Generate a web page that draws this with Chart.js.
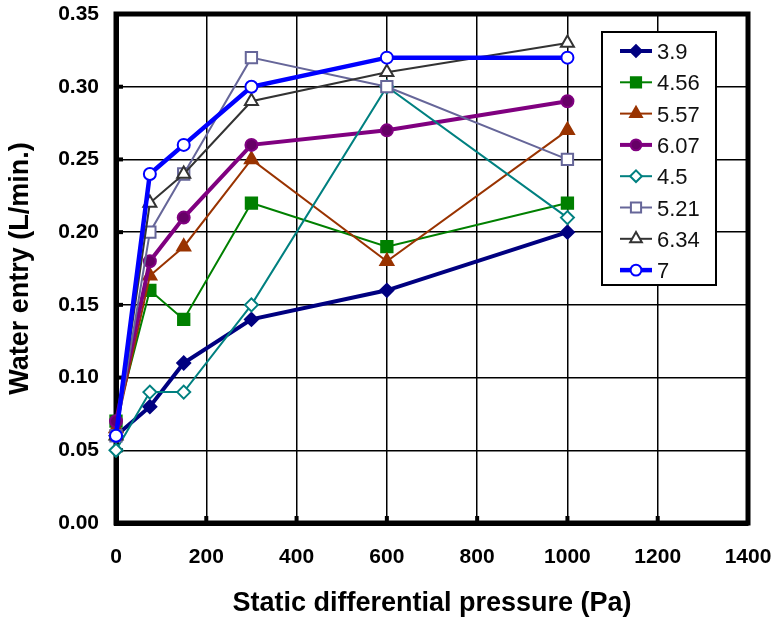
<!DOCTYPE html>
<html>
<head>
<meta charset="utf-8">
<script src="https://cdn.jsdelivr.net/npm/chart.js@4"></script>
<style>
  body { margin: 0; background: #fff; }
  #wrap { width: 778px; height: 620px; }
</style>
</head>
<body>
<div id="wrap"><canvas id="myChart" width="778" height="620"></canvas></div>
<script>
const pressure = [0, 75, 150, 300, 600, 1000];
const seriesNames = ["3.9", "4.56", "5.57", "6.07", "4.5", "5.21", "6.34", "7"];
const s39 = [0.06, 0.08, 0.11, 0.14, 0.16, 0.20];
const s456 = [0.07, 0.16, 0.14, 0.22, 0.19, 0.22];
const s557 = [0.065, 0.17, 0.19, 0.25, 0.18, 0.27];
const s607 = [0.07, 0.18, 0.21, 0.26, 0.27, 0.29];
const s45 = [0.05, 0.09, 0.09, 0.15, 0.30, 0.21];
const s521 = [0.06, 0.20, 0.24, 0.32, 0.30, 0.25];
const s634 = [0.06, 0.22, 0.24, 0.29, 0.31, 0.33];
const s7 = [0.06, 0.24, 0.26, 0.30, 0.32, 0.32];

const values = [s39, s456, s557, s607, s45, s521, s634, s7];
const styles = [
  { color: "#000080", fill: "#000080", width: 4, point: "rectRot", r: 6.5 },
  { color: "#008000", fill: "#008000", width: 2, point: "rect", r: 8 },
  { color: "#993300", fill: "#993300", width: 2, point: "triangle", r: 7.5 },
  { color: "#800080", fill: "#660066", width: 4, point: "circle", r: 6 },
  { color: "#008080", fill: "#ffffff", width: 2, point: "rectRot", r: 6.5 },
  { color: "#666699", fill: "#ffffff", width: 2, point: "rect", r: 8 },
  { color: "#333333", fill: "#ffffff", width: 2, point: "triangle", r: 7.5 },
  { color: "#0000ff", fill: "#ffffff", width: 4.5, point: "circle", r: 6 },
];

const FONT = "Arial, 'Liberation Sans', sans-serif";

const datasets = seriesNames.map((name, i) => ({
  label: name,
  data: pressure.map((x, j) => ({ x: x, y: values[i][j] })),
  borderColor: styles[i].color,
  backgroundColor: styles[i].fill,
  borderWidth: styles[i].width,
  pointStyle: styles[i].point,
  pointRadius: styles[i].r,
  pointBorderColor: styles[i].color,
  pointBackgroundColor: styles[i].fill,
  pointBorderWidth: 2,
  tension: 0,
  fill: false,
  clip: false,
  order: 7 - i,
}));

// legend box drawn inside the plot, line + marker like the original
const boxLegend = {
  id: "boxLegend",
  afterDraw(chart) {
    const c = chart.ctx;
    const left = 602, top = 32, w = 114, h = 253;
    c.save();
    c.fillStyle = "#fff";
    c.fillRect(left, top, w, h);
    c.strokeStyle = "#000";
    c.lineWidth = 2;
    c.strokeRect(left, top, w, h);
    c.font = "22px " + FONT;
    c.textBaseline = "middle";
    chart.data.datasets.forEach((ds, i) => {
      const y = top + 19 + i * 31.3;
      c.strokeStyle = ds.borderColor;
      c.lineWidth = ds.borderWidth;
      c.beginPath();
      c.moveTo(left + 18, y);
      c.lineTo(left + 50, y);
      c.stroke();
      c.fillStyle = ds.pointBackgroundColor;
      c.lineWidth = 2;
      Chart.helpers.drawPoint(c, { pointStyle: ds.pointStyle, radius: ds.pointRadius * 0.9, borderWidth: 2, rotation: 0 }, left + 34, y);
      c.fillStyle = "#111";
      c.fillText(ds.label, left + 55, y + 2);
    });
    c.restore();
  },
};

// heavy frame around the plot area + short inside tick marks
const frame = {
  id: "frame",
  beforeDatasetsDraw(chart) {
    const a = chart.chartArea;
    const c = chart.ctx;
    c.save();
    c.strokeStyle = "#000";
    c.lineWidth = 5;
    c.strokeRect(a.left, a.top, a.right - a.left, a.bottom - a.top);
    c.lineWidth = 4;
    chart.scales.y.ticks.forEach((t) => {
      const py = chart.scales.y.getPixelForValue(t.value);
      c.beginPath();
      c.moveTo(a.left, py);
      c.lineTo(a.left + 7, py);
      c.stroke();
    });
    chart.scales.x.ticks.forEach((t) => {
      const px = chart.scales.x.getPixelForValue(t.value);
      c.beginPath();
      c.moveTo(px, a.bottom);
      c.lineTo(px, a.bottom - 7);
      c.stroke();
    });
    c.restore();
  },
};

const ctx = document.getElementById("myChart");
new Chart(ctx, {
  type: "line",
  data: { datasets: datasets },
  plugins: [frame, boxLegend],
  options: {
    responsive: false,
    animation: false,
    layout: { padding: 0 },
    plugins: { legend: { display: false }, tooltip: { enabled: false } },
    scales: {
      x: {
        type: "linear",
        min: 0,
        max: 1400,
        afterFit: (scale) => {
          scale.height = 97;
          scale.paddingLeft = 0;
          scale.paddingRight = 30;
        },
        ticks: {
          stepSize: 200,
          color: "#000",
          callback: (v) => String(v),
          font: { family: FONT, size: 21, weight: "bold" },
          padding: 22,
          maxRotation: 0,
        },
        grid: { color: "#000", lineWidth: 1.5, drawTicks: false },
        border: { color: "#000", width: 5 },
        title: {
          display: true,
          text: "Static differential pressure (Pa)",
          color: "#000",
          font: { family: FONT, size: 27, weight: "bold" },
          padding: { top: 0, bottom: 0 },
        },
      },
      y: {
        min: 0,
        max: 0.35,
        afterFit: (scale) => {
          scale.width = 116;
          scale.paddingTop = 14;
          scale.paddingBottom = 0;
        },
        ticks: {
          stepSize: 0.05,
          color: "#000",
          callback: (v) => v.toFixed(2),
          font: { family: FONT, size: 21, weight: "bold" },
          padding: 17,
        },
        grid: { color: "#000", lineWidth: 1.5, drawTicks: false },
        border: { color: "#000", width: 5 },
        title: {
          display: true,
          text: "Water entry (L/min.)",
          color: "#000",
          font: { family: FONT, size: 27, weight: "bold" },
          padding: { top: 4, bottom: 0 },
        },
      },
    },
  },
});
</script>
</body>
</html>
